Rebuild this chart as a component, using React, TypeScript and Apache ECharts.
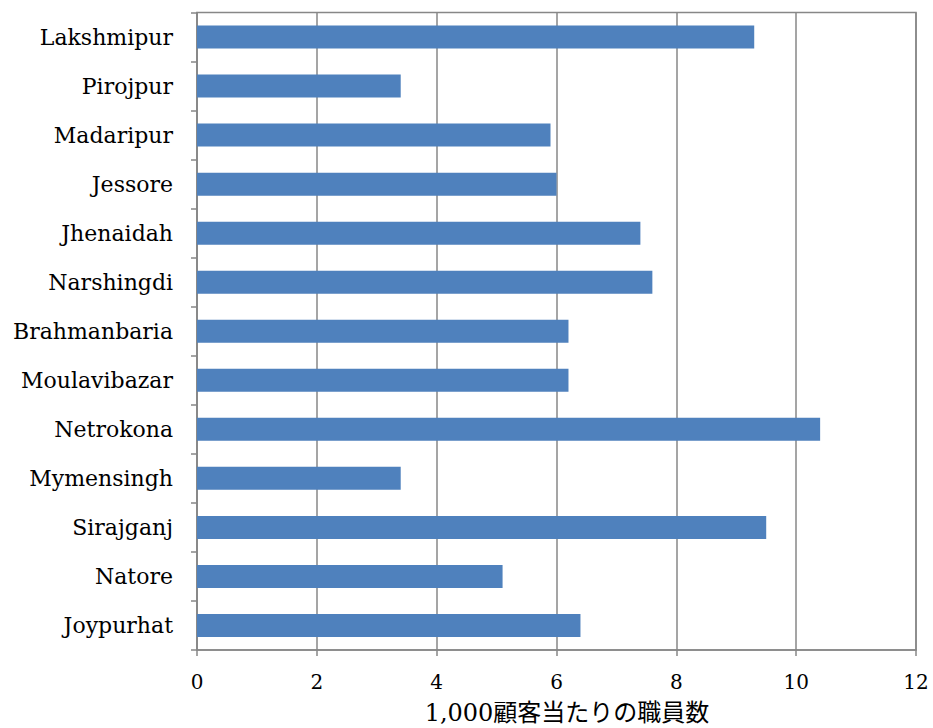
import React, { useEffect, useRef } from "react";
import * as echarts from "echarts";

// Districts listed bottom-to-top, as the category axis draws them
const districts = [
  "Joypurhat",
  "Natore",
  "Sirajganj",
  "Mymensingh",
  "Netrokona",
  "Moulavibazar",
  "Brahmanbaria",
  "Narshingdi",
  "Jhenaidah",
  "Jessore",
  "Madaripur",
  "Pirojpur",
  "Lakshmipur",
];

// Staff per 1,000 customers
const staffPerThousand = [6.4, 5.1, 9.5, 3.4, 10.4, 6.2, 6.2, 7.6, 7.4, 6.0, 5.9, 3.4, 9.3];

const xAxisTitle = "1,000顧客当たりの職員数";

const FONT = "'DejaVu Serif', 'Liberation Serif', 'Noto Sans CJK JP', serif";
const GRID_GRAY = "#878787";

export default function App() {
  const ref = useRef<HTMLDivElement>(null);

  useEffect(() => {
    if (!ref.current) return;
    const chart = echarts.init(ref.current, undefined, { renderer: "svg" });
    chart.setOption({
      animation: false,
      backgroundColor: "#ffffff",
      grid: {
        left: 197,
        right: 17,
        top: 12.5,
        bottom: 78,
        outerBoundsMode: "none",
        containLabel: false,
        show: true,
        borderColor: GRID_GRAY,
        borderWidth: 1.5,
      },
      xAxis: {
        type: "value",
        min: 0,
        max: 12,
        interval: 2,
        name: xAxisTitle,
        nameLocation: "middle",
        nameGap: 51,
        nameTextStyle: {
          fontFamily: FONT,
          fontSize: 24,
          color: "#000",
          padding: [0, 0, 0, 21],
        },
        axisLine: { show: true, lineStyle: { color: GRID_GRAY, width: 1.5 } },
        axisTick: { show: true, length: 6, lineStyle: { color: GRID_GRAY, width: 1.5 } },
        axisLabel: {
          fontFamily: FONT,
          fontSize: 20,
          color: "#000",
          margin: 22,
        },
        splitLine: { show: true, lineStyle: { color: GRID_GRAY, width: 1.5 } },
      },
      yAxis: {
        type: "category",
        data: districts,
        axisLine: { show: true, lineStyle: { color: GRID_GRAY, width: 1.5 } },
        axisTick: { show: true, length: 6, lineStyle: { color: GRID_GRAY, width: 1.5 } },
        axisLabel: {
          fontFamily: FONT,
          fontSize: 22,
          color: "#000",
          margin: 24,
        },
        splitLine: { show: false },
      },
      series: [
        {
          type: "bar",
          data: staffPerThousand,
          barWidth: 23,
          itemStyle: { color: "#4F81BD" },
        },
      ],
    });
    return () => chart.dispose();
  }, []);

  return (
    <div
      ref={ref}
      style={{ position: "absolute", left: 0, top: 0, width: 933, height: 728 }}
    />
  );
}
